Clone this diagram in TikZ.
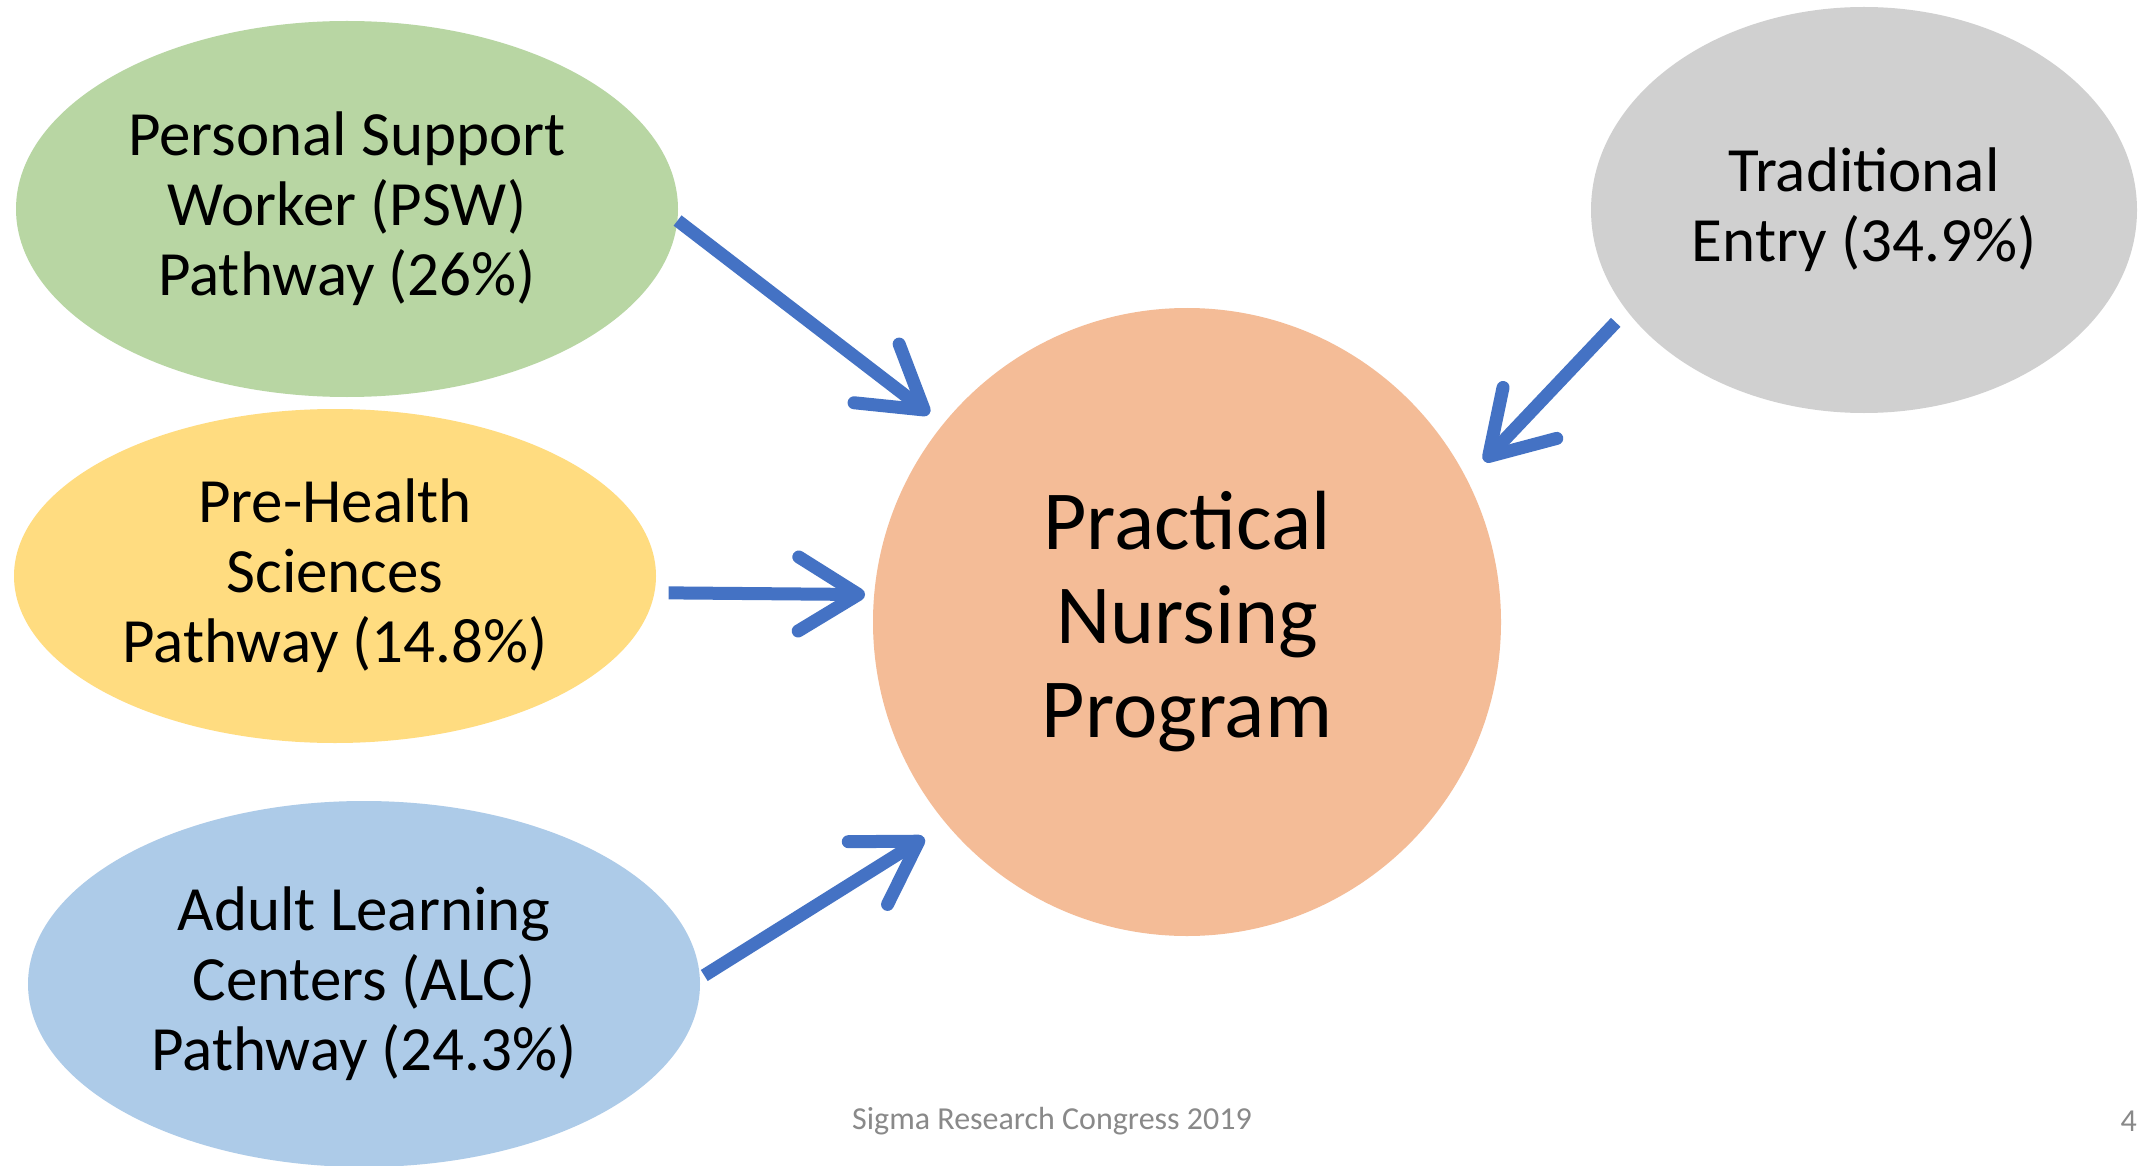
\documentclass[tikz,border=0pt]{standalone}
\usepackage{fontspec}
\setmainfont{Carlito}
\usetikzlibrary{arrows.meta,shapes.geometric}
\definecolor{pswgreen}{HTML}{B8D6A3}
\definecolor{phyellow}{HTML}{FFDC80}
\definecolor{alcblue}{HTML}{ADCBE8}
\definecolor{tradgray}{HTML}{D0D0D0}
\definecolor{pnorange}{HTML}{F4BC97}
\definecolor{arrowblue}{HTML}{4472C4}
\definecolor{footgray}{HTML}{898989}
\tikzset{
  pathway/.style={ellipse, inner sep=0pt, align=center, text=black,
    font=\fontsize{63}{70}\selectfont},
  program/.style={circle, inner sep=0pt, align=center, text=black,
    fill=pnorange, minimum size=628pt, font=\fontsize{84}{94}\selectfont},
  flow/.style={draw=arrowblue, line width=13pt,
    -{Straight Barb[length=60pt,width=74pt,round]}},
  footer/.style={text=footgray, font=\fontsize{32}{38}\selectfont, inner sep=0pt}
}
\begin{document}
\begin{tikzpicture}[x=1pt,y=-1pt]
\useasboundingbox (0,0) rectangle (2152,1166);
\fill[white] (0,0) rectangle (2152,1166);
\begin{scope}
\clip (0,0) rectangle (2152,1166);
\node[pathway, fill=pswgreen, minimum width=662pt, minimum height=376pt] (psw) at (347,209)
  {Personal Support\\Worker (PSW)\\Pathway (26\%)};
\node[pathway, fill=phyellow, minimum width=642pt, minimum height=334pt] (ph) at (335,576)
  {Pre-Health\\Sciences\\Pathway (14.8\%)};
\node[pathway, fill=alcblue, minimum width=672pt, minimum height=366pt] (alc) at (364,984)
  {Adult Learning\\Centers (ALC)\\Pathway (24.3\%)};
\node[pathway, fill=tradgray, minimum width=546pt, minimum height=406pt] (trad) at (1864,210)
  {Traditional\\Entry (34.9\%)};
\node[program] (pn) at (1187,622) {Practical\\Nursing\\Program};
\end{scope}
% arrows into the programme
\draw[flow, shorten >=17pt] (psw.-2) -- (pn.141.5);
\draw[flow, shorten <=14pt, shorten >=9pt] (ph.-3.95) -- (pn.175.6);
\draw[flow, shorten <=5pt, shorten >=26pt] (alc.1.2) -- (pn.220.5);
\draw[flow, shorten <=16pt, shorten >=25pt] (trad.203.7) -- (pn.27.9);
% footer
\node[footer] (foot) at (1052,1121) {Sigma Research Congress 2019};
\node[footer, anchor=east] (page) at (2137,1121) {4};
\end{tikzpicture}
\end{document}
